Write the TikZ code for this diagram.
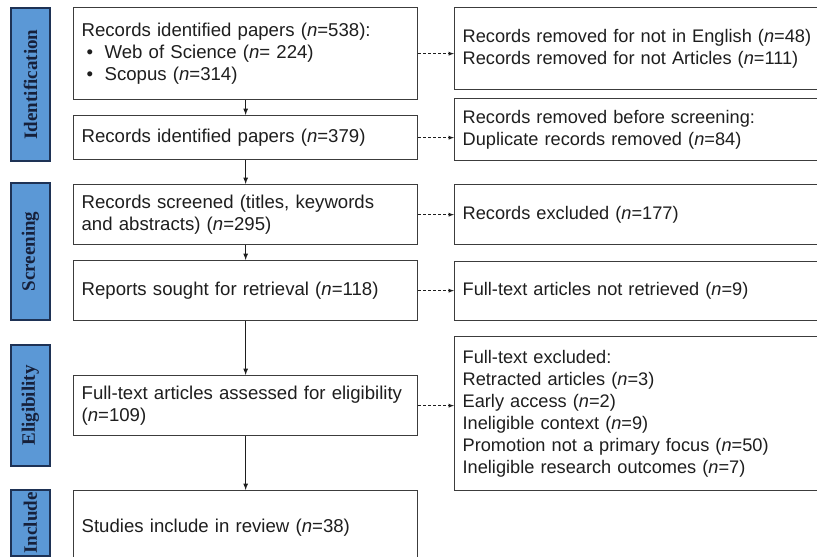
\documentclass[tikz,border=0pt]{standalone}
\usepackage{fontspec}
\usepackage{tikz}
\usepackage{xcolor}
\usetikzlibrary{shapes,arrows,positioning}
\newfontfamily\boxfamily{Liberation Sans}
\newfontfamily\stagefamily{Liberation Serif}
\definecolor{stagefill}{RGB}{91, 152, 214}
\definecolor{stageline}{RGB}{30, 50, 85}
\definecolor{stagetext}{RGB}{22, 32, 58}
\definecolor{boxline}{RGB}{60, 60, 60}
\definecolor{ink}{RGB}{30, 30, 30}
\tikzstyle{flow} = [
    line width=1.2pt,
    -latex,
    draw=ink
]
\tikzstyle{skip} = [
    line width=0.9pt,
    dash pattern=on 3pt off 2pt,
    -latex,
    draw=ink
]
\tikzstyle{stage} = [
    rectangle,
    rotate=90,
    minimum height=39pt,
    inner sep=0pt,
    draw=stageline,
    line width=1.3pt,
    fill=stagefill,
    text=stagetext,
    font=\stagefamily\bfseries\fontsize{19}{20}\selectfont
]
\tikzstyle{record} = [
    rectangle,
    anchor=north west,
    minimum width=344pt,
    text width=328pt,
    inner xsep=8pt,
    inner ysep=0pt,
    align=left,
    draw=boxline,
    line width=1.3pt,
    fill=white,
    text=ink,
    font=\boxfamily\fontsize{18.6}{22}\selectfont
]
\tikzstyle{removed} = [
    record,
    minimum width=418pt,
    text width=402pt,
    inner xsep=8pt,
    font=\boxfamily\fontsize{18.2}{22}\selectfont
]
\newcommand{\nn}{\textit{n}}
\newcommand{\bul}{\makebox[23pt][l]{\hspace{5pt}•}}

\begin{document}
\begin{tikzpicture}[x=1pt, y=-1pt]
    \clip (0,0) rectangle (817,557);
    \fill[white] (0,0) rectangle (817,557);

    % stages
    \node[stage, minimum width=153pt] (ident) at (30.5,84.5) {Identification};
    \node[stage, minimum width=137pt] (screen) at (30.5,251.5) {Screening};
    \node[stage, minimum width=121pt] (elig) at (30.5,405.5) {Eligibility};
    \node[stage, minimum width=66pt] (incl) at (30.5,523) {Include};

    % main column
    \node[record, minimum height=92pt] (found) at (73,7) {Records identified papers (\nn=538):\\
        \bul Web of Science (\nn= 224)\\
        \bul Scopus (\nn=314)};
    \node[record, minimum height=44pt] (kept) at (73,115) {Records identified papers (\nn=379)};
    \node[record, minimum height=60pt] (screened) at (73,184) {Records screened (titles, keywords\\and abstracts) (\nn=295)};
    \node[record, minimum height=60pt] (sought) at (73,260) {Reports sought for retrieval (\nn=118)};
    \node[record, minimum height=60pt] (assessed) at (73,375) {Full-text articles assessed for eligibility\\(\nn=109)};
    \node[record, minimum height=74pt] (included) at (73,490) {Studies include in review (\nn=38)};

    % side column
    \node[removed, minimum height=82pt] (lang) at (454,7) {Records removed for not in English (\nn=48)\\Records removed for not Articles (\nn=111)};
    \node[removed, minimum height=62pt] (dup) at (454,98) {Records removed before screening:\\Duplicate records removed (\nn=84)};
    \node[removed, minimum height=60pt] (excl) at (454,184) {Records excluded (\nn=177)};
    \node[removed, minimum height=59pt] (notret) at (454,261) {Full-text articles not retrieved (\nn=9)};
    \node[removed, minimum height=154pt] (fullex) at (454,336) {Full-text excluded:\\
        Retracted articles (\nn=3)\\
        Early access (\nn=2)\\
        Ineligible context (\nn=9)\\
        Promotion not a primary focus (\nn=50)\\
        Ineligible research outcomes (\nn=7)};

    \draw[flow] (found) -- (kept);
    \draw[flow] (kept) -- (screened);
    \draw[flow] (screened) -- (sought);
    \draw[flow] (sought) -- (assessed);
    \draw[flow] (assessed) -- (included);

    \draw[skip] (found.east) -- (found.east -| lang.west);
    \draw[skip] (kept.east) -- (kept.east -| dup.west);
    \draw[skip] (screened.east) -- (screened.east -| excl.west);
    \draw[skip] (sought.east) -- (sought.east -| notret.west);
    \draw[skip] (assessed.east) -- (assessed.east -| fullex.west);
\end{tikzpicture}
\end{document}
